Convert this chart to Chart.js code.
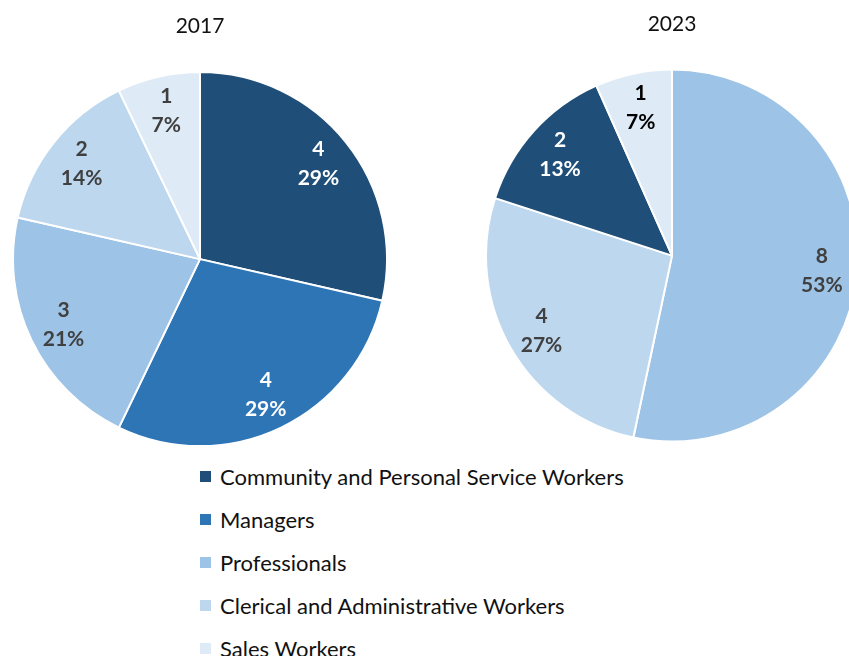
<!DOCTYPE html>
<html>
<head>
<meta charset="utf-8">
<script src="https://cdn.jsdelivr.net/npm/chart.js@4"></script>
<style>
  html, body { margin: 0; padding: 0; background: #fff; overflow: hidden; }
  body { width: 849px; height: 656px; position: relative; font-family: Lato, "Open Sans", sans-serif; }
  .box { position: absolute; }
  #legend { position: absolute; left: 200px; top: 455px; }
  #legend div { height: 43px; display: flex; align-items: center; font-size: 22px; color: #111; }
  #legend span.sw { display: inline-block; width: 11px; height: 11px; margin-right: 9px; }
</style>
</head>
<body>
<div class="box" style="left:12px;top:0;width:376px;height:448px;"><canvas id="chart2017"></canvas></div>
<div class="box" style="left:485px;top:0;width:374px;height:444px;"><canvas id="chart2023"></canvas></div>
<div id="legend"></div>
<script>
// 職種と色
const categories = ['Community and Personal Service Workers', 'Managers', 'Professionals', 'Clerical and Administrative Workers', 'Sales Workers'];
const catColors = ['#1F4E79', '#2E75B6', '#9DC3E6', '#BDD7EE', '#DEEBF7'];

// 2017年（上から時計回り）
const labels2017 = ['Community and Personal Service Workers', 'Managers', 'Professionals', 'Clerical and Administrative Workers', 'Sales Workers'];
const values2017 = [4, 4, 3, 2, 1];
const textColors2017 = ['#fff', '#fff', '#404040', '#404040', '#404040'];

// 2023年（上から時計回り）
const labels2023 = ['Professionals', 'Clerical and Administrative Workers', 'Community and Personal Service Workers', 'Sales Workers'];
const values2023 = [8, 4, 2, 1];
const textColors2023 = ['#404040', '#404040', '#fff', '#000'];

//ラベル描画（値と割合）
const sliceLabels = {
    id: 'sliceLabels',
    afterDatasetsDraw(chart, args, opts){
        const ctx = chart.ctx;
        const ds = chart.data.datasets[0];
        const total = ds.data.reduce((a, b) => a + b, 0);
        chart.getDatasetMeta(0).data.forEach((arc, i) => {
            const mid = (arc.startAngle + arc.endAngle) / 2;
            const r = arc.outerRadius * 0.81;
            const x = arc.x + Math.cos(mid) * r;
            const y = arc.y + Math.sin(mid) * r;
            ctx.save();
            ctx.font = 'bold 21px Lato, "Open Sans", sans-serif';
            ctx.fillStyle = opts.colors[i];
            ctx.textAlign = 'center';
            ctx.textBaseline = 'middle';
            ctx.fillText(String(ds.data[i]), x, y - 15);
            ctx.fillText(Math.round(ds.data[i] / total * 100) + '%', x, y + 14);
            ctx.restore();
        });
    }
};

//チャート描画
function newPie(ctxId, title, labels, values, textColors, titlePad){
    const ctx = document.getElementById(ctxId).getContext('2d');
    return new Chart(ctx, {
        type: 'pie',
        data: {
            labels: labels,
            datasets: [{
                data: values
                ,backgroundColor: labels.map(l => catColors[categories.indexOf(l)])
                ,borderColor: '#fff'
                ,borderWidth: 2
            }]
        },
        options: {
            responsive: true
            ,maintainAspectRatio: false
            ,animation: false
            ,plugins: {
                legend: { display: false }
                ,tooltip: { enabled: false }
                ,title: {
                    display: true
                    ,text: title
                    ,color: '#111'
                    ,font: { family: 'Lato, "Open Sans", sans-serif', size: 21, weight: 'normal' }
                    ,padding: titlePad
                }
                ,sliceLabels: { colors: textColors }
            }
        },
        plugins: [sliceLabels]
    });
}

//凡例
function buildLegend(){
    const el = document.getElementById('legend');
    categories.forEach((c, i) => {
        const row = document.createElement('div');
        const sw = document.createElement('span');
        sw.className = 'sw';
        sw.style.background = catColors[i];
        row.appendChild(sw);
        row.appendChild(document.createTextNode(c));
        el.appendChild(row);
    });
}

newPie('chart2017', '2017', labels2017, values2017, textColors2017, { top: 14, bottom: 31 });
newPie('chart2023', '2023', labels2023, values2023, textColors2023, { top: 12, bottom: 30 });
buildLegend();
</script>
</body>
</html>
